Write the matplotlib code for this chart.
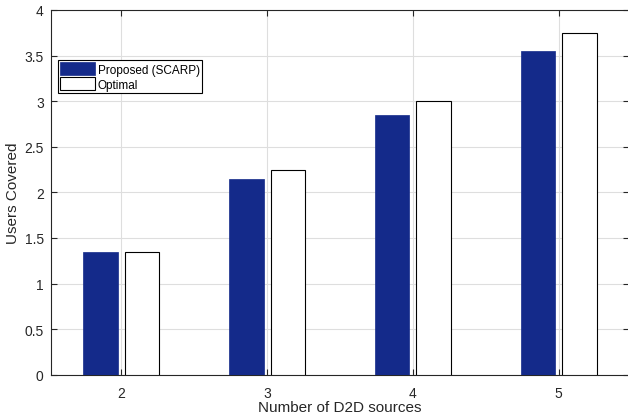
import numpy as np
import matplotlib
matplotlib.use("Agg")
import matplotlib.pyplot as plt

plt.rcParams['font.family'] = ['Liberation Sans', 'DejaVu Sans']

sources = [2, 3, 4, 5]
proposed = [1.35, 2.15, 2.85, 3.55]
optimal = [1.35, 2.25, 3.0, 3.75]
series_labels = ["Proposed (SCARP)", "Optimal"]
yticks = [0, 0.5, 1, 1.5, 2, 2.5, 3, 3.5, 4]
ytick_labels = ["0", "0.5", "1", "1.5", "2", "2.5", "3", "3.5", "4"]

fig = plt.figure(figsize=(6.28, 4.14), dpi=100)
ax = fig.add_axes([0.0807, 0.0925, 0.9215, 0.881])

x = np.array(sources, dtype=float)
offset = 0.142
width = 0.236
ax.bar(x - offset, proposed, width, color="#142a8a", edgecolor="#142a8a",
       linewidth=0.5, label=series_labels[0], zorder=3)
ax.bar(x + offset, optimal, width, color="white", edgecolor="black",
       linewidth=0.8, label=series_labels[1], zorder=3)

ax.set_xlim(1.516, 5.484)
ax.set_ylim(0, 4)
ax.set_xticks(sources)
ax.set_xticklabels([str(s) for s in sources])
ax.set_yticks(yticks)
ax.set_yticklabels(ytick_labels)

ax.grid(True, color="#dedede", linewidth=0.8, zorder=0)
ax.set_axisbelow(True)
ax.tick_params(direction="in", top=True, right=True, length=4,
               width=0.8, labelsize=10, colors="#262626", pad=5)
ax.tick_params(axis="x", pad=8)
for s in ax.spines.values():
    s.set_color("#262626")
    s.set_linewidth(0.8)

ax.set_xlabel("Number of D2D sources", fontsize=11, color="#262626", labelpad=0)
ax.set_ylabel("Users Covered", fontsize=11, color="#262626", labelpad=3)

leg = ax.legend(loc="upper left", bbox_to_anchor=(0.0127, 0.8635),
                fontsize=8.5, frameon=True, fancybox=False, edgecolor="black",
                framealpha=1, borderpad=0.2, handlelength=2.9, handleheight=1.3,
                handletextpad=0.25, labelspacing=0.15, borderaxespad=0)
leg.get_frame().set_linewidth(0.8)

fig.savefig("out.png", dpi=100)
